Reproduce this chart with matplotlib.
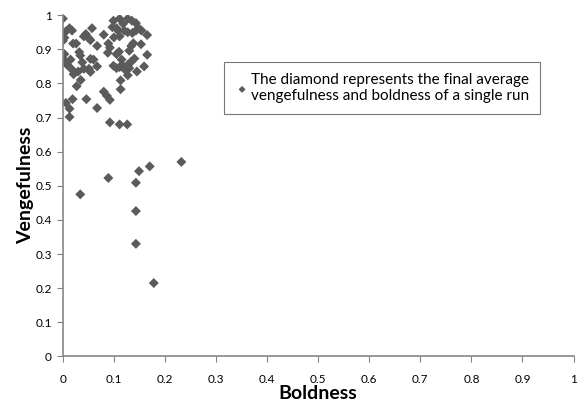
import matplotlib
matplotlib.use("Agg")
import matplotlib.pyplot as plt

plt.rcParams['font.family'] = ['Lato', 'DejaVu Sans']

# final average boldness / vengefulness of each run
boldness = [
    0.000, 0.013, 0.006, 0.003, 0.018, 0.020, 0.026, 0.057, 0.041, 0.050,
    0.045, 0.054, 0.080, 0.067, 0.089, 0.092, 0.099, 0.111, 0.127, 0.135,
    0.143, 0.105, 0.108, 0.120, 0.127, 0.136, 0.143, 0.154, 0.165, 0.111,
    0.105, 0.110, 0.134, 0.138, 0.130, 0.153, 0.165, 0.159, 0.003, 0.000,
    0.006, 0.010, 0.032, 0.034, 0.019, 0.021, 0.038, 0.041, 0.054, 0.051,
    0.054, 0.067, 0.035, 0.027, 0.099, 0.105, 0.111, 0.118, 0.128, 0.134,
    0.140, 0.130, 0.127, 0.113, 0.113, 0.080, 0.086, 0.092, 0.019, 0.046,
    0.006, 0.013, 0.013, 0.067, 0.092, 0.111, 0.126, 0.000, 0.015, 0.100,
    0.115, 0.145, 0.122, 0.008, 0.030, 0.088, 0.060, 0.150, 0.118, 0.097,
    0.034, 0.089, 0.143, 0.149, 0.170, 0.232, 0.143, 0.143, 0.178,
]
vengefulness = [
    0.990, 0.962, 0.953, 0.934, 0.955, 0.917, 0.917, 0.962, 0.938, 0.934,
    0.945, 0.927, 0.943, 0.910, 0.917, 0.905, 0.984, 0.990, 0.990, 0.984,
    0.977, 0.962, 0.955, 0.955, 0.950, 0.948, 0.955, 0.955, 0.942, 0.938,
    0.886, 0.893, 0.910, 0.918, 0.896, 0.915, 0.884, 0.850, 0.886, 0.872,
    0.862, 0.853, 0.892, 0.882, 0.839, 0.827, 0.862, 0.843, 0.872, 0.843,
    0.834, 0.850, 0.810, 0.792, 0.852, 0.845, 0.848, 0.851, 0.856, 0.864,
    0.873, 0.845, 0.824, 0.809, 0.783, 0.776, 0.764, 0.752, 0.754, 0.754,
    0.743, 0.726, 0.702, 0.728, 0.686, 0.680, 0.680, 0.925, 0.870, 0.935,
    0.870, 0.835, 0.840, 0.855, 0.835, 0.890, 0.870, 0.960, 0.975, 0.965,
    0.475, 0.523, 0.509, 0.543, 0.557, 0.570, 0.426, 0.330, 0.215,
]

fig = plt.figure(figsize=(5.77, 4.12), dpi=100)
ax = fig.add_axes([0.109, 0.135, 0.885, 0.828])

ax.scatter(boldness, vengefulness, marker='D', s=26, color='#5b5b5b',
           edgecolors='none', label='The diamond represents the final average\nvengefulness and boldness of a single run')

ax.set_xlim(0, 1)
ax.set_ylim(0, 1)
ax.set_xticks([i / 10 for i in range(11)])
ax.set_yticks([i / 10 for i in range(11)])
ax.set_xticklabels(['0', '0.1', '0.2', '0.3', '0.4', '0.5', '0.6', '0.7', '0.8', '0.9', '1'])
ax.set_yticklabels(['0', '0.1', '0.2', '0.3', '0.4', '0.5', '0.6', '0.7', '0.8', '0.9', '1'])
ax.tick_params(labelsize=8.5, length=4, color='#808080', pad=9)
ax.tick_params(axis='y', pad=4)

for side in ('top', 'right'):
    ax.spines[side].set_visible(False)
for side in ('left', 'bottom'):
    ax.spines[side].set_color('#868686')
    ax.spines[side].set_linewidth(1.2)

ax.set_xlabel('Boldness', fontsize=14, fontweight='bold', labelpad=0)
ax.set_ylabel('Vengefulness', fontsize=14, fontweight='bold', labelpad=1)

leg = ax.legend(loc='upper left', bbox_to_anchor=(0.3, 0.885), fontsize=11,
                frameon=True, fancybox=False, handletextpad=0.1, handlelength=1.0,
                borderpad=0.7, markerscale=0.7, labelspacing=0.2)
leg.get_frame().set_edgecolor('#555555')
leg.get_frame().set_linewidth(0.8)

fig.savefig('out.png', dpi=100)
